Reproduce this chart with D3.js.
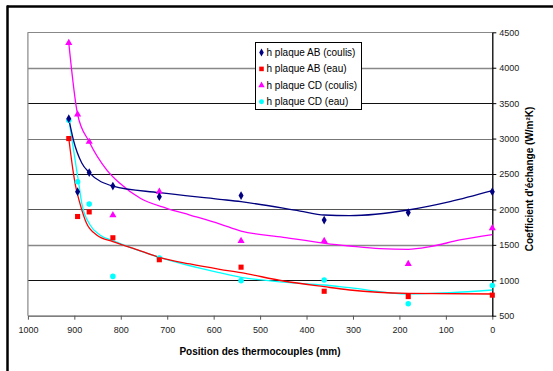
<!DOCTYPE html>
<html>
<head>
<meta charset="utf-8">
<script src="https://cdn.jsdelivr.net/npm/d3@7"></script>
<style>
  body { margin: 0; background: #fff; }
  svg { font-family: "Liberation Sans", Arial, sans-serif; }
</style>
</head>
<body>
<div id="chart"></div>
<script>
// thermocouple positions (mm)
var positions = [912, 893, 868, 817, 717, 541, 362, 181, 0];

var abCoulis = [3280, 2250, 2520, 2330, 2180, 2195, 1850, 1955, 2250];
var abEau    = [3000, 1900, 1965, 1600, 1290, 1185, 845, 770, 790];
var cdCoulis = [4350, 3340, 2955, 1920, 2250, 1555, 1555, 1230, 1735];
var cdEau    = [3260, 2390, 2075, 1055, 1315, 995, 1005, 670, 925];

// trend curves: [position, value]
var trendAbCoulis = [[912, 3280], [902, 2980], [884, 2655], [868, 2520], [817, 2330], [717, 2236],
  [587, 2143], [541, 2109], [414, 1977], [362, 1921], [307, 1912], [181, 1992], [91, 2109], [0, 2264]];
var trendAbEau = [[912, 3004], [903, 2556], [897, 2321], [888, 2086], [874, 1807], [852, 1640],
  [817, 1544], [773, 1451], [717, 1324], [651, 1230], [587, 1155], [541, 1107], [450, 990],
  [362, 909], [307, 863], [181, 816], [0, 806]];
var trendCdCoulis = [[912, 4353], [893, 3343], [868, 2956], [830, 2556], [802, 2369], [758, 2157],
  [701, 2016], [651, 1921], [586, 1794], [541, 1695], [450, 1607], [360, 1522], [307, 1484],
  [242, 1446], [181, 1437], [134, 1474], [70, 1569], [0, 1645]];
var trendCdEau = [[912, 3280], [895, 2556], [891, 2391], [884, 2086], [866, 1780], [845, 1640],
  [817, 1559], [717, 1324], [587, 1107], [541, 1042], [450, 975], [362, 933], [307, 895],
  [181, 806], [91, 825], [0, 863]];

var seriesNames = ["h plaque AB (coulis)", "h plaque AB (eau)", "h plaque CD (coulis)", "h plaque CD (eau)"];
var yTicks = [500, 1000, 1500, 2000, 2500, 3000, 3500, 4000, 4500];
var xTicks = [1000, 900, 800, 700, 600, 500, 400, 300, 200, 100, 0];

var width = 553, height = 371;

var svg = d3.select("#chart").append("svg")
    .attr("width", width)
    .attr("height", height);

var x = d3.scaleLinear().domain([1000, 0]).range([27.9, 492.3]);
var y = d3.scaleLinear().domain([500, 4500]).range([315.7, 32.3]);

// outer frame (only top and left edges show)
svg.append("line").attr("x1", 7).attr("x2", 553).attr("y1", 6.5).attr("y2", 6.5)
    .attr("stroke", "#000").attr("stroke-width", 2.5);
svg.append("line").attr("x1", 7.5).attr("x2", 7.5).attr("y1", 5.5).attr("y2", 371)
    .attr("stroke", "#000").attr("stroke-width", 2.5);

// gridlines
var gridColor = {4500: "#888", 4000: "#888", 3500: "#111", 3000: "#777", 2500: "#111",
                 2000: "#555", 1500: "#888", 1000: "#111"};
svg.append("g").selectAll("line")
    .data(yTicks.filter(function(d) { return d > 500; }))
    .enter().append("line")
    .attr("x1", x(1000)).attr("x2", x(0))
    .attr("y1", function(d) { return Math.round(y(d)) + 0.5; })
    .attr("y2", function(d) { return Math.round(y(d)) + 0.5; })
    .attr("stroke", function(d) { return gridColor[d]; })
    .attr("stroke-width", function(d) { return (d == 4000 || d == 1500) ? 1.6 : 1.1; });

// left border of plot area
svg.append("line").attr("x1", x(1000)).attr("x2", x(1000))
    .attr("y1", y(4500)).attr("y2", y(500))
    .attr("stroke", "#888").attr("stroke-width", 1.2);

// axes
var fmt = d3.format("d");
var xAxis = svg.append("g")
    .attr("transform", "translate(0," + y(500) + ")")
    .call(d3.axisBottom(x).tickValues(xTicks).tickFormat(fmt).tickSize(4).tickPadding(7).tickSizeOuter(0));
xAxis.select(".domain").attr("stroke", "#555").attr("stroke-width", 1.3);
xAxis.selectAll(".tick line").attr("stroke", "#555");
xAxis.selectAll("text").attr("font-size", "9px").attr("fill", "#222");

var yAxis = svg.append("g")
    .attr("transform", "translate(" + x(0) + ",0)")
    .call(d3.axisRight(y).tickValues(yTicks).tickFormat(fmt).tickSize(4).tickPadding(3).tickSizeOuter(0));
yAxis.select(".domain").attr("stroke", "#000").attr("stroke-width", 1.3);
yAxis.selectAll(".tick line").attr("stroke", "#000");
yAxis.selectAll("text").attr("font-size", "9px").attr("fill", "#222");

// axis titles
svg.append("text")
    .attr("x", 260).attr("y", 355)
    .attr("text-anchor", "middle")
    .attr("font-size", "10px").attr("font-weight", "bold")
    .text("Position des thermocouples (mm)");
svg.append("text")
    .attr("transform", "translate(533,179) rotate(-90)")
    .attr("text-anchor", "middle")
    .attr("font-size", "10px").attr("font-weight", "bold")
    .text("Coefficient d'échange (W/m²K)");

var colors = ["#000080", "#ff0000", "#ff00ff", "#00ffff"];
var trends = [trendAbCoulis, trendAbEau, trendCdCoulis, trendCdEau];
var values = [abCoulis, abEau, cdCoulis, cdEau];
var shapes = [d3.symbolDiamond, d3.symbolSquare, d3.symbolTriangle, d3.symbolCircle];
var sizes = [22, 26, 22, 24];

var line = d3.line()
    .x(function(d) { return x(d[0]); })
    .y(function(d) { return y(d[1]); })
    .curve(d3.curveMonotoneX);

// draw order: cyan, magenta, red, navy so it looks like the original
[3, 2, 1, 0].forEach(function(i) {
  svg.append("path")
    .attr("d", line(trends[i]))
    .attr("fill", "none")
    .attr("stroke", colors[i])
    .attr("stroke-width", 1.3);
});

[3, 2, 1, 0].forEach(function(i) {
  svg.append("g").selectAll("path")
    .data(values[i])
    .enter().append("path")
    .attr("d", d3.symbol().type(shapes[i]).size(sizes[i]))
    .attr("transform", function(d, j) { return "translate(" + x(positions[j]) + "," + y(d) + ")"; })
    .attr("fill", colors[i]);
});

// legend
var legend = svg.append("g").attr("transform", "translate(255.5,42.5)");
legend.append("rect")
    .attr("width", 106).attr("height", 67)
    .attr("fill", "#fff").attr("stroke", "#000").attr("stroke-width", 1);
var items = legend.selectAll(".item")
    .data(seriesNames)
    .enter().append("g")
    .attr("class", "item")
    .attr("transform", function(d, i) { return "translate(0," + (10 + i * 16.4) + ")"; });
items.append("path")
    .attr("d", function(d, i) { return d3.symbol().type(shapes[i]).size(sizes[i] * 0.8)(); })
    .attr("transform", "translate(6,0)")
    .attr("fill", function(d, i) { return colors[i]; });
items.append("text")
    .attr("x", 11).attr("dy", "0.35em")
    .attr("font-size", "10px")
    .text(function(d) { return d; });
</script>
</body>
</html>
